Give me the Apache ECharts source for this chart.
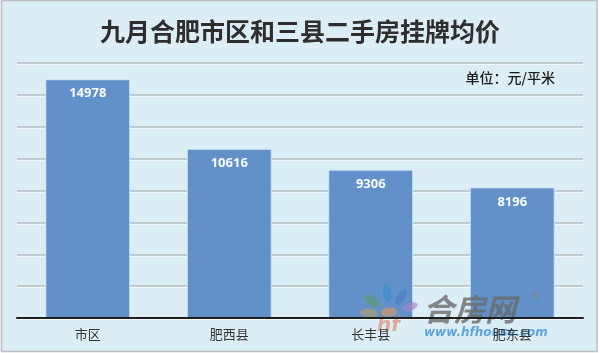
<!DOCTYPE html>
<html>
<head>
<meta charset="utf-8">
<script src="https://cdn.jsdelivr.net/npm/echarts@6/dist/echarts.min.js"></script>
<style>
  html, body { margin: 0; padding: 0; background: #ffffff; }
  #chart { width: 600px; height: 353px; }
</style>
</head>
<body>
<div id="chart"></div>
<script>
// 九月二手房挂牌均价（元/平米）
const categories = ['市区', '肥西县', '长丰县', '肥东县'];
const prices = [14978, 10616, 9306, 8196];
const yTicks = [0, 2000, 4000, 6000, 8000, 10000, 12000, 14000, 16000];

const chart = echarts.init(document.getElementById('chart'), null, { renderer: 'canvas' });

// Logo petals of the site mark in the lower right corner
const petals = [
  { x: 372, y: 301, rx: 4.5, ry: 9, rot: 0.9, color: '#5a9a6a' },
  { x: 387, y: 293, rx: 4, ry: 9, rot: 0.15, color: '#3d8fd0' },
  { x: 401, y: 297, rx: 4, ry: 9, rot: -0.6, color: '#4a80c8' },
  { x: 410, y: 307, rx: 4, ry: 8, rot: -1.2, color: '#a585c8' },
  { x: 369, y: 313, rx: 4.5, ry: 9, rot: 1.5, color: '#b0a070' },
  { x: 389, y: 312, rx: 4.5, ry: 8, rot: 1.6, color: '#d89a60' }
];

const graphics = [
  {
    type: 'rect', z: -10, silent: true,
    shape: { x: 1.5, y: 0.5, width: 595.5, height: 351 },
    style: { fill: '#dbeef5', stroke: '#bdbdbd', lineWidth: 1.5 }
  },
  {
    type: 'text', z: 10,
    style: {
      text: '九月合肥市区和三县二手房挂牌均价',
      x: 300, y: 31, align: 'center', verticalAlign: 'middle',
      font: 'bold 25px "Noto Sans CJK SC"', fill: '#2e2e2e',
      shadowColor: 'rgba(120,100,60,0.5)', shadowOffsetX: 1.5, shadowOffsetY: 1.5, shadowBlur: 1
    }
  },
  {
    type: 'text', z: 10,
    style: {
      text: '单位：元/平米', x: 555, y: 78, align: 'right', verticalAlign: 'middle',
      font: '500 14px "Noto Sans CJK SC"', fill: '#1a1a1a'
    }
  }
];

petals.forEach(p => {
  graphics.push({
    type: 'ellipse', z: 20, silent: true,
    x: p.x, y: p.y, rotation: p.rot,
    shape: { cx: 0, cy: 0, rx: p.rx, ry: p.ry },
    style: { fill: p.color, opacity: 0.65 }
  });
});

graphics.push(
  {
    type: 'text', z: 20, silent: true,
    style: {
      text: 'hf', x: 377, y: 316, font: 'italic bold 20px "DejaVu Sans"',
      fill: '#e07050', opacity: 0.55
    }
  },
  {
    type: 'text', z: 20, silent: true,
    style: {
      text: '合房网', x: 423, y: 294, font: 'italic bold 31px "Noto Sans CJK SC"',
      fill: '#6a6a6a', opacity: 0.8
    }
  },
  {
    type: 'text', z: 20, silent: true,
    style: {
      text: '®', x: 530, y: 292, font: '11px "DejaVu Sans"', fill: '#808080', opacity: 0.8
    }
  },
  {
    type: 'text', z: 20, silent: true,
    style: {
      text: 'www.hfhouse.com', x: 424, y: 327, font: 'italic bold 12px "DejaVu Sans"',
      fill: '#4b95d6', opacity: 0.85
    }
  }
);

chart.setOption({
  animation: false,
  backgroundColor: 'transparent',
  grid: { left: 17, right: 17, top: 63, bottom: 35, containLabel: false },
  xAxis: {
    type: 'category',
    data: categories,
    axisLine: { lineStyle: { color: '#1f1f1f', width: 2 } },
    axisTick: { show: false },
    axisLabel: {
      color: '#333333', fontSize: 13, margin: 10,
      fontFamily: '"Noto Sans CJK SC"'
    },
    z: 30
  },
  yAxis: {
    type: 'value',
    min: yTicks[0],
    max: yTicks[yTicks.length - 1],
    interval: yTicks[1] - yTicks[0],
    axisLine: { show: false },
    axisTick: { show: false },
    axisLabel: { show: false },
    splitLine: {
      lineStyle: {
        color: '#b3bcc1', width: 1.5,
        shadowColor: 'rgba(255,255,255,0.9)', shadowOffsetY: 1
      }
    }
  },
  series: [{
    type: 'bar',
    data: prices,
    barWidth: '60%',
    itemStyle: {
      color: '#5d8dc6',
      borderColor: 'rgba(215,230,245,0.9)',
      borderWidth: 1,
      opacity: 0.97
    },
    label: {
      show: true,
      position: 'insideTop',
      distance: 8,
      color: '#ffffff',
      fontSize: 13,
      fontWeight: 'bold',
      fontFamily: '"Open Sans", "DejaVu Sans", sans-serif'
    }
  }],
  graphic: graphics
});
</script>
</body>
</html>
